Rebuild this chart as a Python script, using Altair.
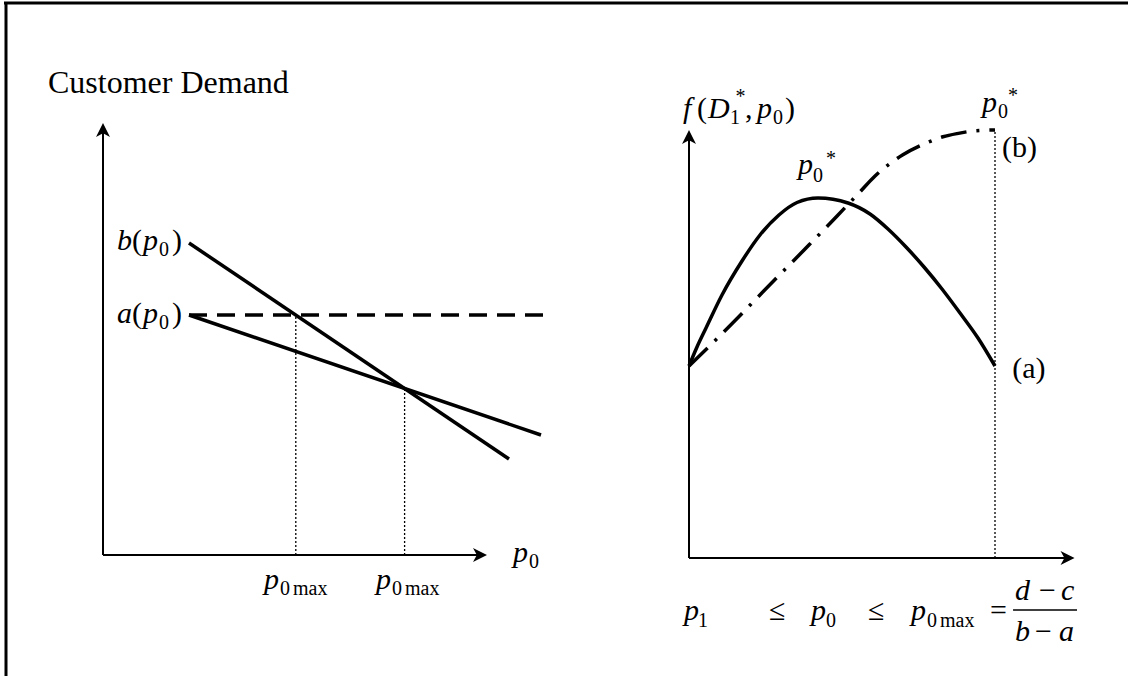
import altair as alt
import pandas as pd

FONT = "Liberation Serif"
INK = "black"

# ---------------- left panel: customer demand against price p0 ----------------
B_P = [2.15, 10.15]          # b(p0) demand line
B_D = [7.8, 2.4]
A_P = [2.15, 10.95]          # a(p0) demand line
A_D = [6.0, 3.0]
FLAT_P = [2.15, 11.0]        # flat dashed level at a(p0)
FLAT_D = [6.0, 6.0]
DROP_P = [4.82, 7.54]        # the two p0max values
DROP_D = [6.0, 4.16]         # demand level where each drop line starts
L_AXIS_X = 9.6               # length of price axis
L_AXIS_Y = 10.8              # length of demand axis

# ---------------- right panel: f(D1*, p0) over p1 <= p0 <= p0max ----------------
SOLID_P = [0.0, 0.261, 0.556, 1.078, 1.732, 2.32, 2.94, 3.53, 4.216,
           5.196, 5.915, 6.503, 7.092, 7.68, 8.268, 8.856, 9.444, 10.0]
SOLID_F = [4.8, 5.275, 5.75, 6.575, 7.425, 8.075, 8.575, 8.8875, 9.0,
           8.875, 8.6, 8.225, 7.775, 7.275, 6.725, 6.125, 5.5, 4.8]
DASHDOT_P = [0.0, 1.37, 2.45, 3.76, 4.84, 5.56, 6.08, 6.6, 6.99, 7.68, 8.3, 8.76, 9.35, 10.0]
DASHDOT_F = [4.8, 5.83, 6.68, 7.7, 8.55, 9.13, 9.55, 9.88, 10.08, 10.35, 10.53, 10.61, 10.68, 10.7]
P0MAX = 10.0
P0MAX_TOP = 10.65
R_AXIS_X = 12.6
R_AXIS_Y = 10.7
FRAC_BAR = [10.59, 12.68]
FRAC_Y = -1.3

# text pieces: (x, y, text, font size, italic)
LEFT_TEXT = [
    (-1.375, 11.55, "Customer Demand", 32, False),
    (0.35, 7.625, "b", 30, True), (0.725, 7.625, "(", 30, False), (1.0, 7.625, "p", 30, True),
    (1.4, 7.475, "0", 20, False), (1.725, 7.625, ")", 30, False),
    (0.35, 5.8, "a", 30, True), (0.725, 5.8, "(", 30, False), (1.0, 5.8, "p", 30, True),
    (1.4, 5.65, "0", 20, False), (1.725, 5.8, ")", 30, False),
    (10.25, -0.175, "p", 30, True), (10.65, -0.325, "0", 20, False),
    (4.025, -0.85, "p", 30, True), (4.425, -1.0, "0", 20, False), (4.75, -1.0, "max", 20, False),
    (6.825, -0.85, "p", 30, True), (7.225, -1.0, "0", 20, False), (7.55, -1.0, "max", 20, False),
]
RIGHT_TEXT = [
    (-0.196, 11.0, "f", 30, True), (0.26, 11.0, "(", 30, False), (0.62, 11.0, "D", 30, True),
    (1.34, 10.85, "1", 20, False), (1.52, 11.375, "*", 20, False), (1.83, 11.0, ",", 30, False),
    (2.22, 11.0, "p", 30, True), (2.745, 10.85, "0", 20, False), (3.14, 11.0, ")", 30, False),
    (9.575, 11.15, "p", 30, True), (10.1, 11.0, "0", 20, False), (10.425, 11.4, "*", 20, False),
    (3.56, 9.6, "p", 30, True), (4.05, 9.4, "0", 20, False), (4.48, 9.825, "*", 20, False),
    (10.23, 10.025, "(b)", 30, False),
    (10.56, 4.5, "(a)", 30, False),
    (-0.163, -1.55, "p", 30, True), (0.294, -1.725, "1", 20, False),
    (2.614, -1.55, "\u2264", 30, False),
    (3.987, -1.55, "p", 30, True), (4.477, -1.725, "0", 20, False),
    (5.85, -1.55, "\u2264", 30, False),
    (7.255, -1.55, "p", 30, True), (7.778, -1.725, "0", 20, False), (8.203, -1.725, "max", 20, False),
    (9.837, -1.55, "=", 30, False),
    (10.65, -1.05, "d", 30, True), (11.44, -1.05, "\u2212", 30, False), (12.16, -1.05, "c", 30, True),
    (10.65, -2.075, "b", 30, True), (11.31, -2.075, "\u2212", 30, False), (12.09, -2.075, "a", 30, True),
]

# panel coordinate systems
LX = alt.Scale(domain=[0, 10], range=[103, 503], nice=False, zero=False)
LY = alt.Scale(domain=[0, 10], range=[555, 155], nice=False, zero=False)
RX = alt.Scale(domain=[0, 10], range=[689, 995], nice=False, zero=False)
RY = alt.Scale(domain=[0, 10], range=[558, 158], nice=False, zero=False)

# arrowheads with the tip at the symbol's anchor
ARROW_UP = "M0,0 L1,2 L0,1.45 L-1,2 Z"
ARROW_RIGHT = "M0,0 L-2,-1 L-1.45,0 L-2,1 Z"


def segments(rows, sx, sy, **mark):
    df = pd.DataFrame(rows, columns=["x0", "y0", "x1", "y1"])
    return alt.Chart(df).mark_rule(color=INK, **mark).encode(
        x=alt.X("x0:Q", scale=sx, axis=None),
        y=alt.Y("y0:Q", scale=sy, axis=None),
        x2="x1:Q",
        y2="y1:Q",
    )


def arrow(px, py, shape, sx, sy):
    df = pd.DataFrame({"x": [px], "y": [py]})
    return alt.Chart(df).mark_point(shape=shape, filled=True, size=196, color=INK, opacity=1).encode(
        x=alt.X("x:Q", scale=sx, axis=None),
        y=alt.Y("y:Q", scale=sy, axis=None),
    )


def curve(xs, ys, sx, sy, **mark):
    df = pd.DataFrame({"x": xs, "y": ys, "i": range(len(xs))})
    return alt.Chart(df).mark_line(color=INK, interpolate="monotone", **mark).encode(
        x=alt.X("x:Q", scale=sx, axis=None),
        y=alt.Y("y:Q", scale=sy, axis=None),
        order="i:Q",
    )


def texts(rows, sx, sy):
    df = pd.DataFrame(rows, columns=["x", "y", "t", "s", "it"])
    layers = []
    for italic in (True, False):
        sub = df[df["it"] == italic][["x", "y", "t", "s"]]
        layers.append(
            alt.Chart(sub).mark_text(
                font=FONT, align="left", baseline="alphabetic", color=INK,
                fontStyle="italic" if italic else "normal",
            ).encode(
                x=alt.X("x:Q", scale=sx, axis=None),
                y=alt.Y("y:Q", scale=sy, axis=None),
                text="t:N",
                size=alt.Size("s:Q", scale=None),
            )
        )
    return layers


# ---- left panel ----
left = alt.layer(
    segments([(0, 0, 0, L_AXIS_Y - 0.25), (0, 0, L_AXIS_X - 0.25, 0)], LX, LY, strokeWidth=2),
    arrow(0, L_AXIS_Y, ARROW_UP, LX, LY),
    arrow(L_AXIS_X, 0, ARROW_RIGHT, LX, LY),
    segments([(DROP_P[i], 0, DROP_P[i], DROP_D[i]) for i in range(2)], LX, LY,
             strokeWidth=1.3, strokeDash=[2, 2]),
    segments([(FLAT_P[0], FLAT_D[0], FLAT_P[1], FLAT_D[1])], LX, LY,
             strokeWidth=3.5, strokeDash=[18, 10]),
    segments([(B_P[0], B_D[0], B_P[1], B_D[1]), (A_P[0], A_D[0], A_P[1], A_D[1])], LX, LY,
             strokeWidth=3.5),
    *texts(LEFT_TEXT, LX, LY),
)

# ---- right panel ----
right = alt.layer(
    segments([(0, 0, 0, R_AXIS_Y - 0.25), (0, 0, R_AXIS_X - 0.3, 0)], RX, RY, strokeWidth=2),
    arrow(0, R_AXIS_Y, ARROW_UP, RX, RY),
    arrow(R_AXIS_X, 0, ARROW_RIGHT, RX, RY),
    segments([(P0MAX, 0, P0MAX, P0MAX_TOP)], RX, RY, strokeWidth=1.3, strokeDash=[2, 2]),
    curve(SOLID_P, SOLID_F, RX, RY, strokeWidth=3.5),
    curve(DASHDOT_P, DASHDOT_F, RX, RY, strokeWidth=3.5, strokeDash=[26, 10, 3, 10]),
    segments([(FRAC_BAR[0], FRAC_Y, FRAC_BAR[1], FRAC_Y)], RX, RY, strokeWidth=1.5),
    *texts(RIGHT_TEXT, RX, RY),
)

# ---- border along the top and left edges ----
base = alt.Chart(pd.DataFrame({"k": [0]}))
frame_top = base.mark_rule(color=INK, strokeWidth=3).encode(
    x=alt.value(4), x2=alt.value(1128), y=alt.value(3))
frame_left = base.mark_rule(color=INK, strokeWidth=3).encode(
    x=alt.value(6), y=alt.value(2), y2=alt.value(676))

chart = alt.layer(frame_top, frame_left, left, right).resolve_scale(
    x="independent", y="independent"
).properties(
    width=1128, height=676, padding=0,
    autosize=alt.AutoSizeParams(type="none"),
    background="white",
).configure_view(stroke=None)

chart.save("out.html", embed_options={"renderer": "svg", "actions": False})
